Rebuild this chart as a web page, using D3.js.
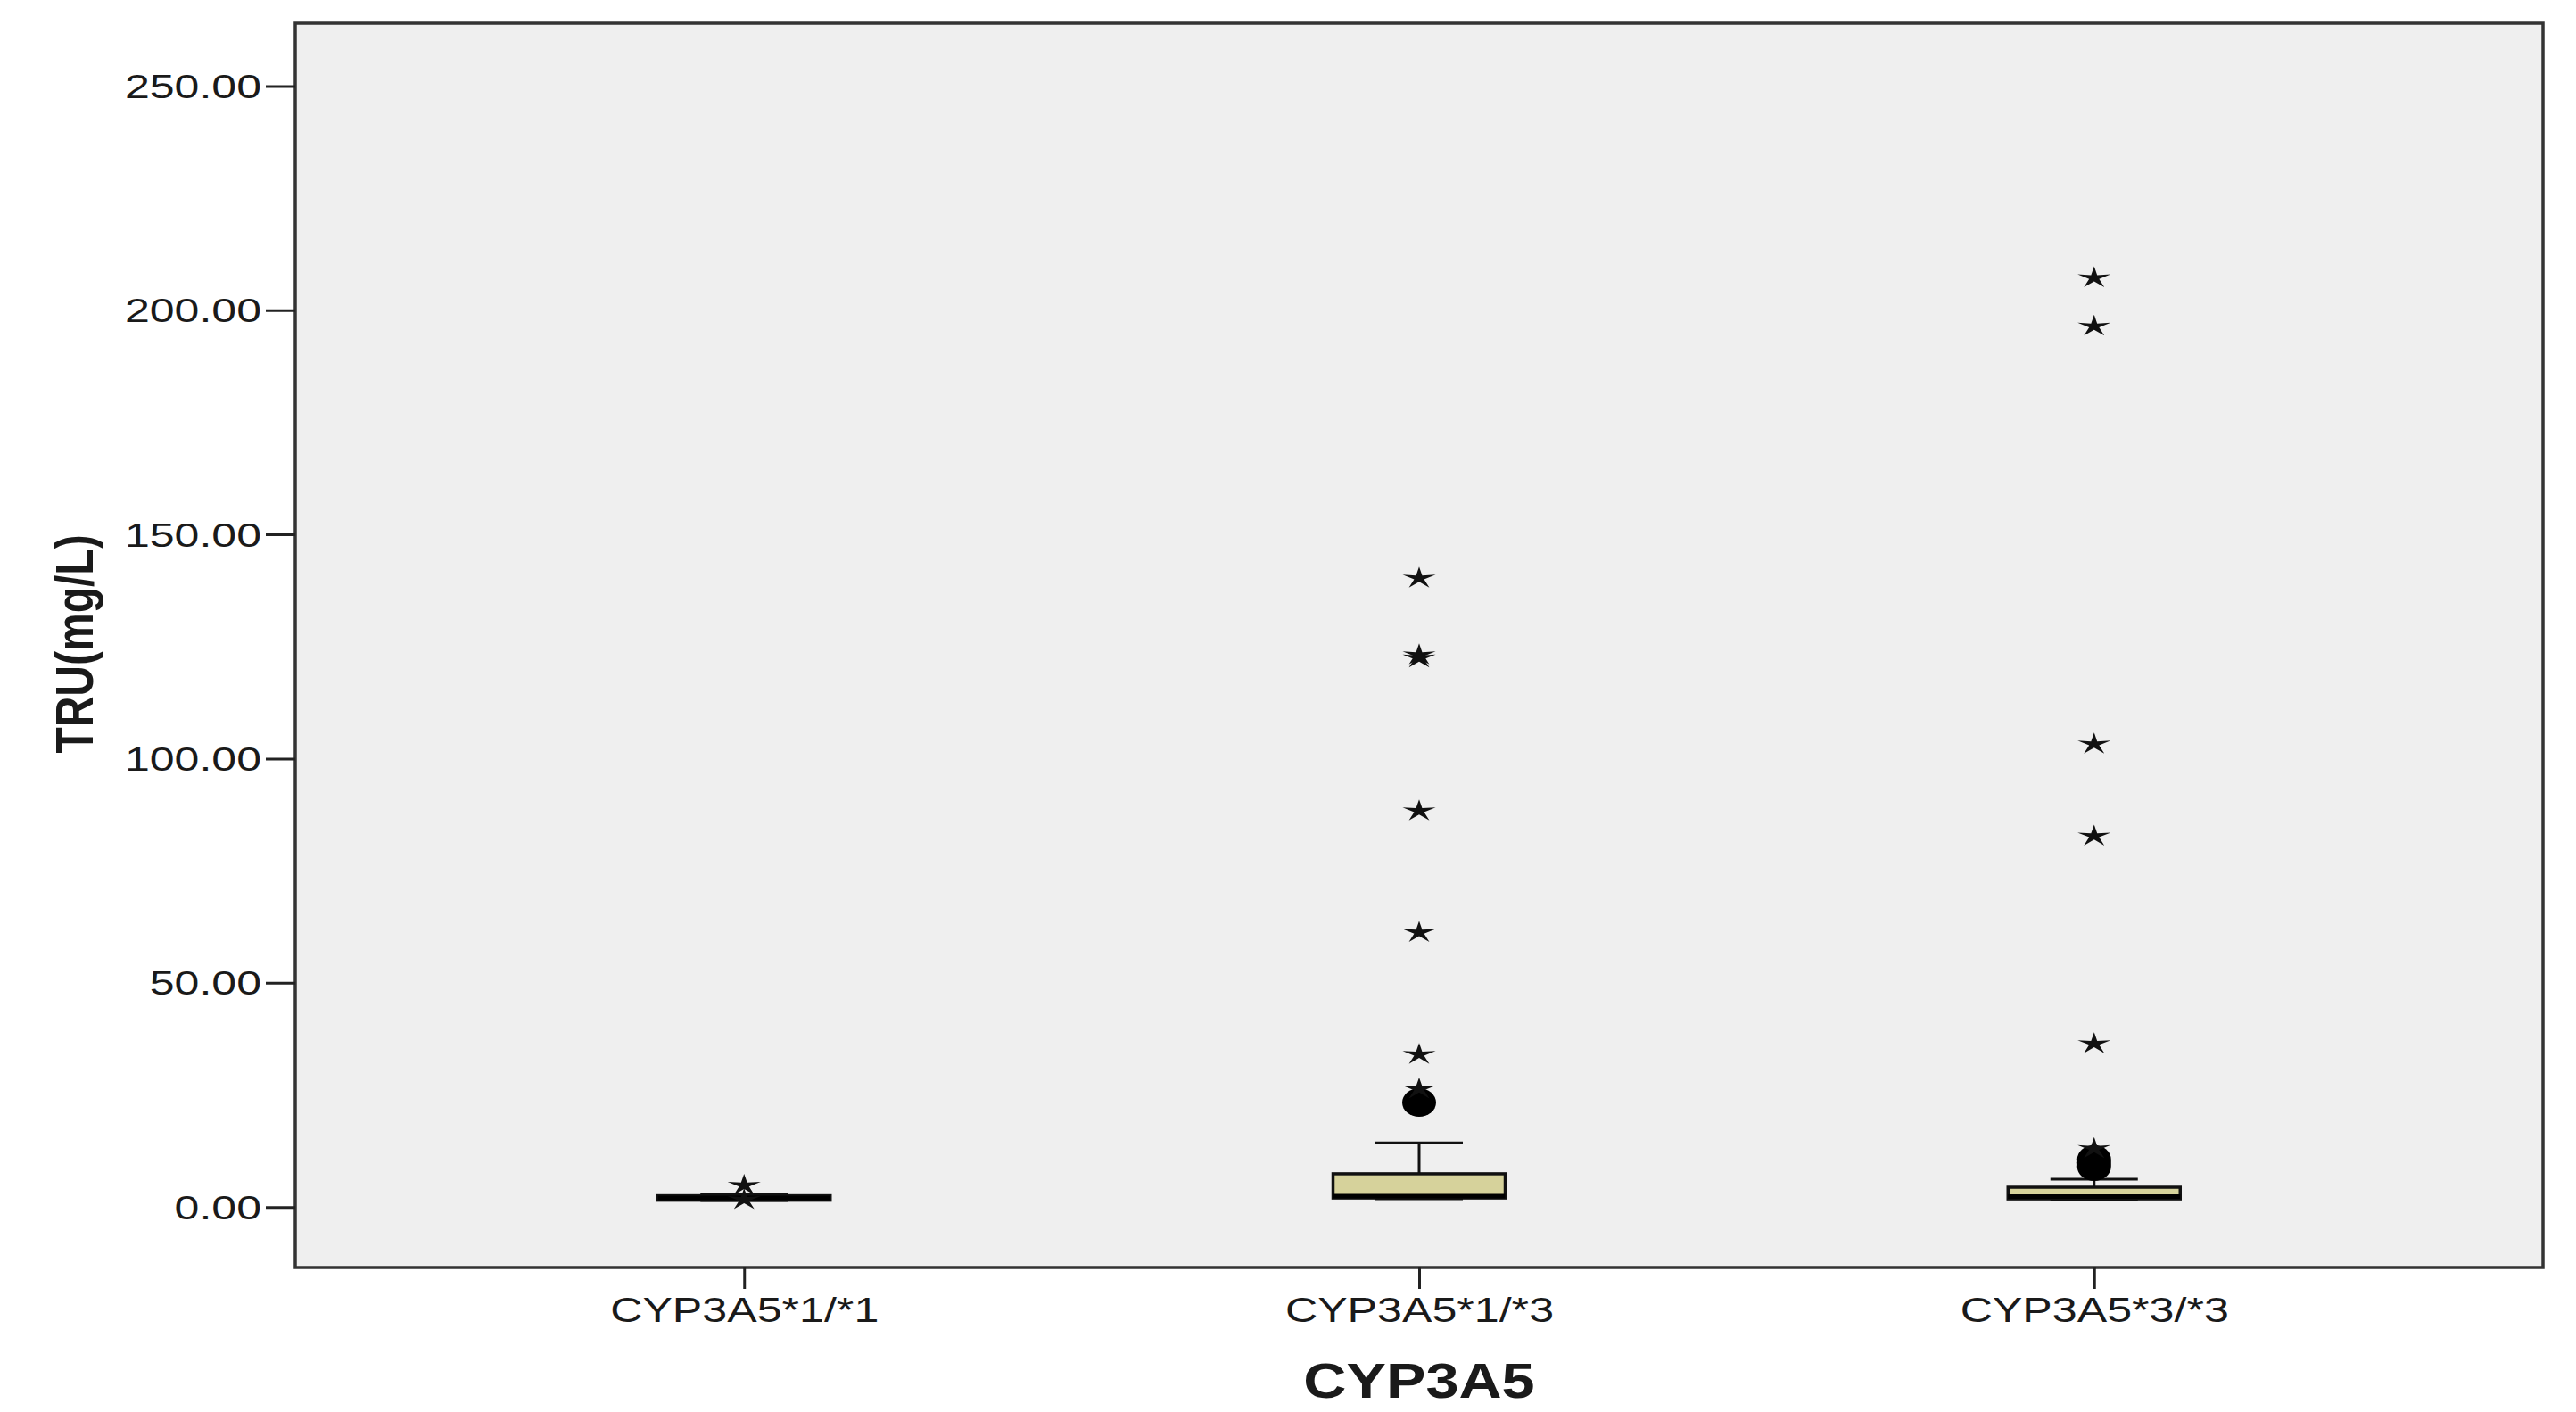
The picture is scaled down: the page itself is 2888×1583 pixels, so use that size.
<!DOCTYPE html>
<html>
<head>
<meta charset="utf-8">
<script src="https://cdn.jsdelivr.net/npm/d3@7"></script>
<style>
  body { margin: 0; background: #fff; }
  svg { display: block; }
  text { font-family: "Liberation Sans", Arial, sans-serif; fill: #1a1a1a; }
</style>
</head>
<body>
<svg id="boxChart"></svg>
<script>
// data
const categories = ["CYP3A5*1/*1", "CYP3A5*1/*3", "CYP3A5*3/*3"];
const q1 = [1.5, 2.0, 1.8];
const median = [2.0, 2.4, 2.3];
const q3 = [2.5, 7.4, 4.4];
const whiskerLow = [1.4, 1.8, 1.6];
const whiskerHigh = [2.7, 14.3, 6.2];

// circles (outliers)
const outlierGroup = ["CYP3A5*1/*3", "CYP3A5*3/*3", "CYP3A5*3/*3", "CYP3A5*3/*3"];
const outlierValue = [23.3, 9.0, 9.8, 10.6];

// stars (extreme values)
const extremeGroup = ["CYP3A5*1/*1", "CYP3A5*1/*1",
    "CYP3A5*1/*3", "CYP3A5*1/*3", "CYP3A5*1/*3", "CYP3A5*1/*3", "CYP3A5*1/*3", "CYP3A5*1/*3", "CYP3A5*1/*3",
    "CYP3A5*3/*3", "CYP3A5*3/*3", "CYP3A5*3/*3", "CYP3A5*3/*3", "CYP3A5*3/*3", "CYP3A5*3/*3"];
const extremeValue = [4.8, 1.6,
    140.2, 123.1, 122.4, 88.3, 61.2, 34.0, 26.3,
    207.2, 196.4, 103.2, 82.7, 36.4, 13.0];

const yTicks = [0, 50, 100, 150, 200, 250];
const yTitle = "TRU(mg/L)";
const xTitle = "CYP3A5";

// SVG size
var w = 2888;
var h = 1583;
let margin = ({ top: 26, right: 37, bottom: 162, left: 331 });

var svg = d3.select("#boxChart")
    .attr("width", w)
    .attr("height", h);

var xScale = d3.scalePoint()
    .domain(categories)
    .range([margin.left, w - margin.right])
    .padding(0.665);

var yScale = d3.scaleLinear()
    .domain([-13.5, 264])
    .range([h - margin.bottom, margin.top]);

// plot background
svg.append("rect")
    .attr("x", margin.left)
    .attr("y", margin.top)
    .attr("width", w - margin.left - margin.right)
    .attr("height", h - margin.top - margin.bottom)
    .attr("fill", "#efefef");

const boxWidth = 193;
const capWidth = 98;

let boxes = categories.map((c, i) => ({
    cat: c, q1: q1[i], med: median[i], q3: q3[i], lo: whiskerLow[i], hi: whiskerHigh[i]
}));

const chart = svg.append("g");

let groups = chart.selectAll("g.box")
    .data(boxes)
    .join("g")
    .attr("class", "box")
    .attr("transform", d => `translate(${xScale(d.cat)},0)`);

// whiskers
groups.append("line")
    .attr("x1", 0).attr("x2", 0)
    .attr("y1", d => yScale(d.hi)).attr("y2", d => yScale(d.q3))
    .attr("stroke", "#111").attr("stroke-width", 3);
groups.append("line")
    .attr("x1", 0).attr("x2", 0)
    .attr("y1", d => yScale(d.lo)).attr("y2", d => yScale(d.q1))
    .attr("stroke", "#111").attr("stroke-width", 3);
groups.selectAll("line.cap")
    .data(d => [d.lo, d.hi])
    .join("line")
    .attr("class", "cap")
    .attr("x1", -capWidth / 2).attr("x2", capWidth / 2)
    .attr("y1", v => yScale(v)).attr("y2", v => yScale(v))
    .attr("stroke", "#111").attr("stroke-width", 3);

// box
groups.append("rect")
    .attr("x", -boxWidth / 2)
    .attr("width", boxWidth)
    .attr("y", d => yScale(d.q3))
    .attr("height", d => yScale(d.q1) - yScale(d.q3))
    .attr("fill", "#d6d29b")
    .attr("stroke", "#111")
    .attr("stroke-width", 3.5);

// median
groups.append("line")
    .attr("x1", -boxWidth / 2).attr("x2", boxWidth / 2)
    .attr("y1", d => yScale(d.med)).attr("y2", d => yScale(d.med))
    .attr("stroke", "#000").attr("stroke-width", 5);

// circles
chart.append("g")
    .selectAll("ellipse")
    .data(outlierValue.map((v, i) => ({ cat: outlierGroup[i], v: v })))
    .join("ellipse")
    .attr("cx", d => xScale(d.cat))
    .attr("cy", d => yScale(d.v))
    .attr("rx", 19)
    .attr("ry", 16)
    .attr("fill", "#000");

// thin five point star, wider than tall like the source
const thinStar = {
    draw(context, size) {
        const r = Math.sqrt(size * 0.89);
        const ri = r * 0.3;
        for (let k = 0; k < 10; k++) {
            const a = -Math.PI / 2 + k * Math.PI / 5;
            const rr = k % 2 === 0 ? r : ri;
            const px = Math.cos(a) * rr, py = Math.sin(a) * rr;
            if (k === 0) context.moveTo(px, py); else context.lineTo(px, py);
        }
        context.closePath();
    }
};

chart.append("g")
    .selectAll("path")
    .data(extremeValue.map((v, i) => ({ cat: extremeGroup[i], v: v })))
    .join("path")
    .attr("d", d3.symbol().type(thinStar).size(190))
    .attr("transform", d => `translate(${xScale(d.cat)},${yScale(d.v)}) scale(1.5,1)`)
    .attr("fill", "#111");

// frame
svg.append("rect")
    .attr("x", margin.left)
    .attr("y", margin.top)
    .attr("width", w - margin.left - margin.right)
    .attr("height", h - margin.top - margin.bottom)
    .attr("fill", "none")
    .attr("stroke", "#333")
    .attr("stroke-width", 3.5);

let yAxis = g => g
    .attr("transform", `translate(${margin.left},0)`)
    .call(d3.axisLeft(yScale).tickValues(yTicks).tickSize(33).tickFormat(d3.format(".2f")))
    .call(g => g.select(".domain").remove())
    .call(g => g.selectAll(".tick line").attr("stroke", "#222").attr("stroke-width", 3))
    .call(g => g.selectAll(".tick text")
        .attr("x", 0)
        .attr("dy", "0.36em")
        .attr("transform", "translate(-38,0) scale(1.39,1)")
        .style("font-size", "36px")
        .style("font-family", "'Liberation Sans', Arial, sans-serif")
        .attr("fill", "#1a1a1a"));

svg.append("g").call(yAxis);

let xAxis = g => g
    .attr("transform", `translate(0,${h - margin.bottom})`)
    .call(d3.axisBottom(xScale).tickSize(24))
    .call(g => g.select(".domain").remove())
    .call(g => g.selectAll(".tick line").attr("stroke", "#222").attr("stroke-width", 3))
    .call(g => g.selectAll(".tick text")
        .attr("y", 0)
        .attr("dy", 0)
        .attr("transform", "translate(0,61) scale(1.32,1)")
        .style("font-size", "38px")
        .style("font-family", "'Liberation Sans', Arial, sans-serif")
        .attr("fill", "#1a1a1a"));

svg.append("g").call(xAxis);

// axis titles
svg.append("text")
    .attr("transform", `translate(${xScale(categories[1])},1567) scale(1.19,1)`)
    .attr("text-anchor", "middle")
    .style("font-size", "56px")
    .style("font-weight", "bold")
    .text(xTitle);

svg.append("text")
    .attr("transform", "translate(104,722) scale(1.25,1) rotate(-90)")
    .attr("text-anchor", "middle")
    .style("font-size", "48px")
    .style("font-weight", "bold")
    .text(yTitle);
</script>
</body>
</html>
